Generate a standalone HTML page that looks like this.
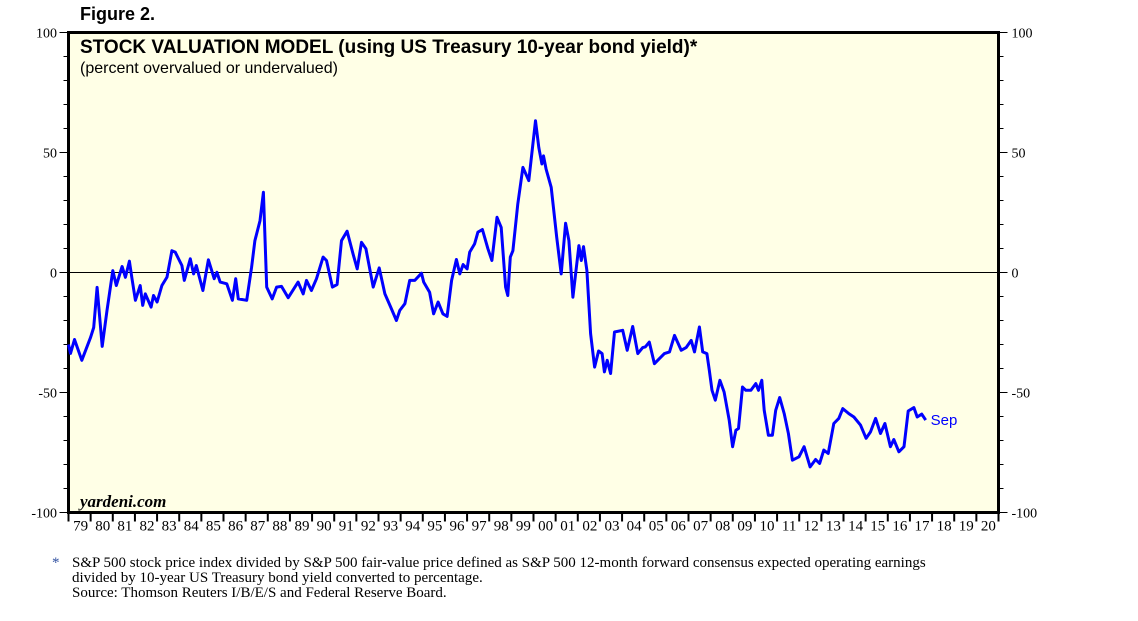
<!DOCTYPE html>
<html><head><meta charset="utf-8"><style>
body{margin:0;background:#fff;width:1138px;height:621px;overflow:hidden}
svg{display:block}
</style></head><body>
<svg id="chart" width="1138" height="621" xmlns="http://www.w3.org/2000/svg">
<text x="80" y="20" font-family="Liberation Sans, sans-serif" font-size="18" font-weight="bold">Figure 2.</text>
<rect x="68.5" y="32.5" width="930" height="480" fill="#ffffe6" stroke="#000" stroke-width="3"/>
<g id="yaxes"></g>
<g id="xaxis"></g>
<line id="zero" x1="70" x2="997" stroke="#000" stroke-width="1"/>
<path id="series" fill="none" stroke="#0000ff" stroke-width="3" stroke-linejoin="round"/>
<text id="lastlbl" font-family="Liberation Sans, sans-serif" font-size="15" fill="#0000ff">Sep</text>
<text x="80" y="53" font-family="Liberation Sans, sans-serif" font-size="19" font-weight="bold">STOCK VALUATION MODEL (using US Treasury 10-year bond yield)*</text>
<text x="80" y="73" font-family="Liberation Sans, sans-serif" font-size="16">(percent overvalued or undervalued)</text>
<text x="80" y="507" font-family="Liberation Serif, serif" font-size="17" font-style="italic" font-weight="bold">yardeni.com</text>
<g font-family="Liberation Serif, serif" font-size="15">
<text x="52" y="567" fill="#3050a0">*</text>
<text x="72" y="567">S&amp;P 500 stock price index divided by S&amp;P 500 fair-value price defined as S&amp;P 500 12-month forward consensus expected operating earnings</text>
<text x="72" y="582">divided by 10-year US Treasury bond yield converted to percentage.</text>
<text x="72" y="597">Source: Thomson Reuters I/B/E/S and Federal Reserve Board.</text>
</g>
</svg>
<script>
const times=[1979.0,1979.09,1979.27,1979.6,1980.0,1980.14,1980.29,1980.52,1980.74,1981.0,1981.16,1981.42,1981.57,1981.75,1981.87,1982.02,1982.24,1982.35,1982.47,1982.73,1982.84,1983.0,1983.22,1983.45,1983.67,1983.82,1984.12,1984.23,1984.5,1984.65,1984.77,1985.07,1985.32,1985.58,1985.7,1985.85,1986.15,1986.4,1986.55,1986.67,1987.05,1987.27,1987.42,1987.65,1987.8,1987.95,1988.2,1988.4,1988.62,1988.92,1989.37,1989.6,1989.75,1989.97,1990.2,1990.5,1990.65,1990.92,1991.13,1991.33,1991.58,1991.85,1992.04,1992.23,1992.43,1992.76,1993.03,1993.29,1993.55,1993.81,1993.96,1994.19,1994.41,1994.64,1994.94,1995.04,1995.31,1995.49,1995.69,1995.91,1996.1,1996.3,1996.52,1996.67,1996.82,1997.0,1997.12,1997.34,1997.49,1997.69,1997.94,1998.12,1998.35,1998.54,1998.74,1998.84,1998.95,1999.07,1999.29,1999.52,1999.79,2000.09,2000.24,2000.38,2000.45,2000.57,2000.8,2000.9,2001.05,2001.25,2001.45,2001.6,2001.78,2002.05,2002.16,2002.26,2002.41,2002.58,2002.76,2002.94,2003.1,2003.2,2003.33,2003.48,2003.66,2004.03,2004.23,2004.48,2004.71,2004.93,2005.05,2005.23,2005.46,2005.68,2005.91,2006.14,2006.37,2006.67,2006.89,2007.12,2007.27,2007.49,2007.64,2007.83,2007.94,2008.06,2008.21,2008.42,2008.61,2008.84,2008.99,2009.14,2009.26,2009.44,2009.59,2009.82,2010.04,2010.16,2010.31,2010.42,2010.61,2010.79,2010.94,2011.12,2011.32,2011.51,2011.69,2011.99,2012.22,2012.49,2012.74,2012.92,2013.11,2013.31,2013.56,2013.79,2013.97,2014.24,2014.47,2014.77,2015.02,2015.22,2015.45,2015.67,2015.87,2016.12,2016.27,2016.5,2016.73,2016.92,2017.18,2017.33,2017.53,2017.71];
const values=[-30,-33.7,-27.9,-36.6,-27,-22.9,-6.2,-30.8,-15.8,0.8,-5.4,2.5,-2,4.7,-2.6,-11.6,-5.4,-13.7,-8.9,-14.4,-9.6,-12.3,-5.4,-1.9,9.1,8.5,2.9,-3.3,5.7,-0.6,2.9,-7.5,5.3,-2.6,0.1,-4,-4.7,-11.6,-2.6,-11,-11.6,2.2,13.3,21.6,33.4,-6.1,-11,-6.1,-5.8,-10.5,-4,-8.9,-3.3,-7.5,-2.6,6.4,5,-6.1,-5,13.3,17.2,7.8,1.5,12.6,9.9,-6.1,1.9,-8.9,-14.4,-20,-15.8,-13,-3.3,-3.3,-0.3,-4,-8.2,-17.2,-12.3,-17.2,-18.3,-3.3,5.4,-0.6,3.3,1.5,8.5,11.9,16.8,17.9,9.9,5,23,18.8,-6.1,-9.6,6.4,9.1,28.6,43.8,38.3,63.2,52.1,45.2,48.6,43.1,35.5,27.2,14.7,-0.6,20.5,13.3,-10.3,11.2,5,10.8,0.8,-25.5,-39.4,-32.7,-33.8,-41.4,-36.6,-42.1,-24.8,-24.1,-32.4,-22.5,-33.8,-31.3,-31,-29,-38,-35.9,-33.8,-33.1,-26.2,-32.4,-31.3,-28.3,-33.1,-22.7,-33.1,-33.8,-40.7,-49.1,-53.2,-44.9,-49.8,-61.5,-72.6,-65.7,-65,-47.7,-49.1,-49.1,-46.3,-49.1,-44.9,-57.4,-67.8,-67.8,-57.4,-52.1,-58.8,-67.1,-78.2,-76.8,-72.6,-81,-77.9,-79.6,-74,-75.4,-62.9,-60.8,-56.7,-58.8,-60.2,-63.6,-69.1,-66.4,-60.8,-67.1,-62.9,-72.6,-69.6,-74.7,-72.6,-57.7,-56.3,-60.2,-59,-61.5];
const yTicks=[100,50,0,-50,-100];
const yearLabels=["79","80","81","82","83","84","85","86","87","88","89","90","91","92","93","94","95","96","97","98","99","00","01","02","03","04","05","06","07","08","09","10","11","12","13","14","15","16","17","18","19","20"];
const NS="http://www.w3.org/2000/svg";
const X0=68.5,X1=998.5,YT=32.5,YB=512.5;
function xs(t){return X0+(t-1979)*(X1-X0)/42;}
function ys(v){return YT+(100-v)*(YB-YT)/200;}
function mk(tag,attrs,parent,txt){const e=document.createElementNS(NS,tag);for(const k in attrs)e.setAttribute(k,attrs[k]);if(txt!==undefined)e.textContent=txt;parent.appendChild(e);return e;}
const ya=document.getElementById('yaxes');
for(let v=-100;v<=100;v+=10){
  const major=v%50===0;const y=ys(v);
  const l=mk('line',{x1:X0-(major?9:5),x2:X0,y1:y,y2:y,stroke:'#000','stroke-width':1},ya);
  
  
  const r=mk('line',{x1:X1,x2:X1+(major?9:5),y1:y,y2:y,stroke:'#000','stroke-width':1},ya);
  
  
}
yTicks.forEach(v=>{
  const y=ys(v)+5;
  const a=mk('text',{x:57,y:y,'text-anchor':'end','font-family':'Liberation Serif, serif','font-size':14},ya,String(v));
  
  
  const b=mk('text',{x:X1+13,y:y,'font-family':'Liberation Serif, serif','font-size':14},ya,String(v));
  
  
});
const xa=document.getElementById('xaxis');
for(let i=0;i<=yearLabels.length;i++){
  const x=xs(1979+i);
  const t=mk('line',{x1:x,x2:x,y1:YB,y2:YB+9,stroke:'#000','stroke-width':2},xa);
  
  
}
yearLabels.forEach((s,i)=>{
  const t=mk('text',{x:xs(1979.5+i)+1,y:YB+18,'text-anchor':'middle','font-family':'Liberation Serif, serif','font-size':15},xa,s);
  
  
});
const z=document.getElementById('zero');z.setAttribute('y1',ys(0));z.setAttribute('y2',ys(0));
let d='';times.forEach((t,i)=>{d+=(i?'L':'M')+xs(t).toFixed(1)+','+ys(values[i]).toFixed(1);});
document.getElementById('series').setAttribute('d',d);
const ll=document.getElementById('lastlbl');
ll.setAttribute('x',xs(times[times.length-1])+5);
ll.setAttribute('y',ys(values[values.length-1])+5);
</script>
</body></html>
